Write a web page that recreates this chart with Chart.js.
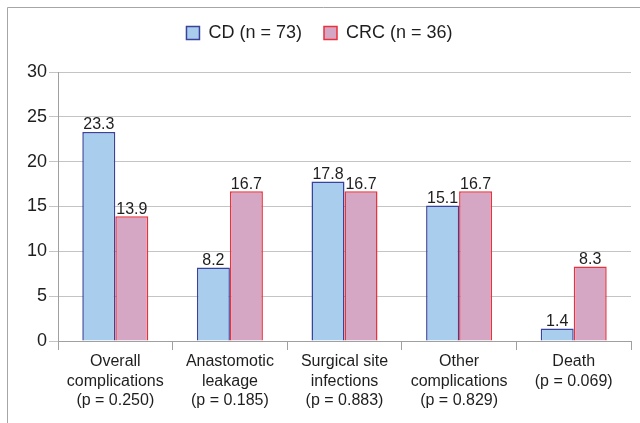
<!DOCTYPE html>
<html>
<head>
<meta charset="utf-8">
<script src="https://cdn.jsdelivr.net/npm/chart.js@4"></script>
<style>
    html, body { margin: 0; padding: 0; background: #fff; }
    #wrap { width: 640px; height: 423px; position: relative; }
</style>
</head>
<body>
<div id="wrap"><canvas id="chart"></canvas></div>
<script>
// -------------------------- Data

const categories = [
    ['Overall', 'complications', '(p = 0.250)'],
    ['Anastomotic', 'leakage', '(p = 0.185)'],
    ['Surgical site', 'infections', '(p = 0.883)'],
    ['Other', 'complications', '(p = 0.829)'],
    ['Death', '(p = 0.069)'],
];
const cdValues = [23.3, 8.2, 17.8, 15.1, 1.4];
const crcValues = [13.9, 16.7, 16.7, 16.7, 8.3];
const seriesNames = ['CD (n = 73)', 'CRC (n = 36)'];
const yTicks = [0, 5, 10, 15, 20, 25, 30];

const COLORS = {
    blueFill: '#a9cdec',
    blueLine: '#3a429c',
    pinkFill: '#d6a7c4',
    pinkLine: '#e8323c',
    text: '#1e1e1e',
    grid: '#c4c4c4',
};

const FONT = '"Liberation Sans", Arial, Helvetica, sans-serif';

// --------------------------- Plugins

// white page + the thin grey frame on left and top
const framePlugin = {
    id: 'frame',
    beforeDraw(chart) {
        const ctx = chart.ctx;
        ctx.save();
        ctx.fillStyle = '#fff';
        ctx.fillRect(0, 0, chart.width, chart.height);
        ctx.strokeStyle = '#a6a6a6';
        ctx.lineWidth = 1;
        ctx.beginPath();
        ctx.moveTo(7.5, chart.height);
        ctx.lineTo(7.5, 7.5);
        ctx.lineTo(chart.width, 7.5);
        ctx.stroke();
        ctx.restore();
    }
};

// extra room between legend and plot
const legendGap = {
    id: 'legendGap',
    afterInit(chart) {
        const origFit = chart.legend.fit;
        chart.legend.fit = function() {
            origFit.call(this);
            this.height += 20;
        };
    }
};

// value labels on top of every bar
const valueLabels = {
    id: 'valueLabels',
    afterDatasetsDraw(chart) {
        const ctx = chart.ctx;
        ctx.save();
        ctx.font = '16px ' + FONT;
        ctx.fillStyle = COLORS.text;
        ctx.textAlign = 'center';
        ctx.textBaseline = 'bottom';
        chart.data.datasets.forEach(function(ds, i) {
            chart.getDatasetMeta(i).data.forEach(function(bar, j) {
                ctx.fillText(ds.data[j].toFixed(1), bar.x, bar.y + 1);
            });
        });
        ctx.restore();
    }
};

// --------------------------- Chart

const ctx = document.getElementById('chart');

new Chart(ctx, {
    type: 'bar',
    data: {
        labels: categories,
        datasets: [
            {
                label: seriesNames[0],
                data: cdValues,
                backgroundColor: COLORS.blueFill,
                borderColor: COLORS.blueLine,
                borderWidth: 1.5,
            },
            {
                label: seriesNames[1],
                data: crcValues,
                backgroundColor: COLORS.pinkFill,
                borderColor: COLORS.pinkLine,
                borderWidth: 1.5,
            }
        ]
    },
    options: {
        responsive: true,
        maintainAspectRatio: false,
        animation: false,
        categoryPercentage: 0.576,
        barPercentage: 1.0,
        layout: {
            padding: { left: 8, right: 9, top: 2, bottom: 0 }
        },
        plugins: {
            legend: {
                position: 'top',
                labels: {
                    boxWidth: 13,
                    boxHeight: 13,
                    padding: 22,
                    color: COLORS.text,
                    font: { family: FONT, size: 18 },
                },
            },
            tooltip: { enabled: false },
        },
        scales: {
            y: {
                min: 0,
                max: 30,
                afterBuildTicks: function(scale) {
                    scale.ticks = yTicks.map(v => ({ value: v }));
                },
                afterFit: function(scale) {
                    scale.width = 50;   // axis line lands at x = 58
                },
                ticks: {
                    color: COLORS.text,
                    padding: 2,
                    font: { family: FONT, size: 18 },
                },
                grid: {
                    color: COLORS.grid,
                    tickLength: 9,
                },
                border: { color: '#a0a0a0' },
            },
            x: {
                afterFit: function(scale) {
                    scale.height = 82;  // axis line lands at y = 341
                },
                ticks: {
                    color: COLORS.text,
                    padding: 2,
                    maxRotation: 0,
                    autoSkip: false,
                    font: { family: FONT, size: 16, lineHeight: 1.22 },
                },
                grid: {
                    drawOnChartArea: false,
                    offset: true,
                    tickLength: 9,
                    color: '#a0a0a0',
                },
                border: { color: '#a0a0a0' },
            }
        }
    },
    plugins: [framePlugin, legendGap, valueLabels]
});
</script>
</body>
</html>
